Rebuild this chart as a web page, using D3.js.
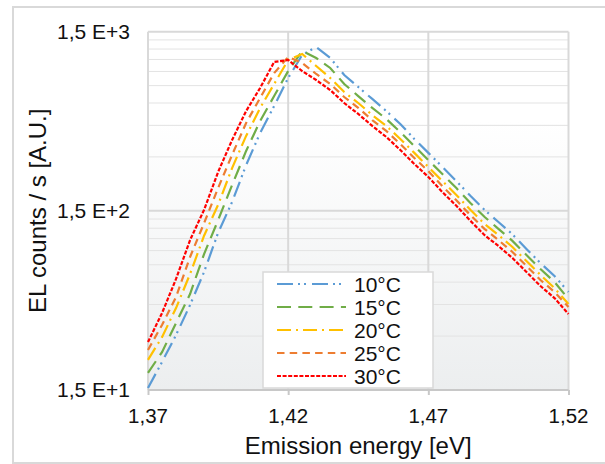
<!DOCTYPE html>
<html>
<head>
<meta charset="utf-8">
<script src="https://cdn.jsdelivr.net/npm/d3@7"></script>
<style>
  body { margin: 0; background: #fff; }
  svg { display: block; font-family: "Liberation Sans", Arial, sans-serif; }
</style>
</head>
<body>
<script>
// emission energy [eV]
const energy = [1.370, 1.375, 1.380, 1.385, 1.390, 1.395, 1.400, 1.405, 1.410, 1.415,
                1.420, 1.425, 1.430, 1.435, 1.440, 1.445, 1.450, 1.455, 1.460, 1.465,
                1.470, 1.475, 1.480, 1.485, 1.490, 1.495, 1.500, 1.505, 1.510, 1.515, 1.520];

// EL counts / s
const counts10 = [15.4, 21.5, 30.4, 44.7, 68.4, 113, 168, 270, 408, 577,
                  827, 1112, 1232, 1070, 860, 737, 632, 541, 458, 378,
                  316, 264, 220, 182, 152, 130, 111, 91.9, 76.7, 64.9, 52.9];
const counts15 = [18.7, 24.4, 35.5, 51.5, 86.1, 133, 209, 324, 476, 656,
                  905, 1170, 1070, 941, 766, 656, 563, 489, 413, 345,
                  288, 241, 201, 166, 139, 119, 102, 85.0, 71.0, 60.1, 48.3];
const counts20 = [22.1, 29.6, 43.0, 66.6, 109, 162, 260, 393, 563, 766,
                  1043, 1126, 965, 827, 691, 600, 514, 447, 378, 316,
                  264, 220, 184, 152, 127, 110, 94.3, 78.7, 65.8, 55.6, 45.3];
const counts25 = [25.1, 34.6, 49.6, 82.9, 128, 201, 308, 464, 640, 882,
                  1084, 1003, 871, 766, 648, 563, 482, 419, 354, 296,
                  250, 206, 172, 142, 119, 103, 88.4, 73.9, 61.7, 52.9, 43.6];
const counts30 = [27.8, 40.3, 62.5, 103, 152, 247, 373, 541, 728, 1016,
                  1043, 905, 806, 709, 600, 521, 447, 388, 328, 274,
                  232, 191, 160, 132, 110, 95.5, 81.8, 68.4, 57.1, 48.9, 39.8];

const seriesNames = ["10°C", "15°C", "20°C", "25°C", "30°C"];

const xTicks = [1.37, 1.42, 1.47, 1.52];
const xTickLabels = ["1,37", "1,42", "1,47", "1,52"];
const yTicks = [15, 150, 1500];
const yTickLabels = ["1,5 E+1", "1,5 E+2", "1,5 E+3"];
const yMinor = [30, 45, 60, 75, 90, 105, 120, 135, 300, 450, 600, 750, 900, 1050, 1200, 1350];

const width = 605, height = 464;
const marginTop = 31.7, marginBottom = 74, marginLeft = 148, marginRight = 36.5;

const colors = ["#5b9bd5", "#70ad47", "#ffc000", "#ed7d31", "#ff0000"];
const dashes = ["16,5,2,4,2,6", "14,7.3", "14,5,2,5", "7.5,5.2", "4,1.6"];

const series = [counts10, counts15, counts20, counts25, counts30].map((vals, i) => ({
  name: seriesNames[i],
  color: colors[i],
  dash: dashes[i],
  values: vals.map((v, j) => ({e: energy[j], v: v}))
}));

const x = d3.scaleLinear()
    .domain([1.37, 1.52])
    .range([marginLeft, width - marginRight]);

const y = d3.scaleLog()
    .domain([15, 1500])
    .range([height - marginBottom, marginTop]);

const svg = d3.create("svg")
    .attr("width", width)
    .attr("height", height);

const grad = svg.append("defs").append("linearGradient")
    .attr("id", "bg")
    .attr("x1", 0).attr("y1", 0).attr("x2", 0).attr("y2", 1);
grad.append("stop").attr("offset", "0%").attr("stop-color", "#ffffff");
grad.append("stop").attr("offset", "25%").attr("stop-color", "#ffffff");
grad.append("stop").attr("offset", "100%").attr("stop-color", "#eceeef");

// outer chart border
svg.append("rect")
    .attr("x", 13).attr("y", 7)
    .attr("width", 610).attr("height", 456)
    .attr("fill", "#fff")
    .attr("stroke", "#d9d9d9")
    .attr("stroke-width", 2);

// plot area background
svg.append("rect")
    .attr("x", x(1.37)).attr("y", y(1500))
    .attr("width", x(1.52) - x(1.37)).attr("height", y(15) - y(1500))
    .attr("fill", "url(#bg)");

// minor gridlines
svg.append("g")
    .attr("stroke", "#e3e3e3")
    .attr("stroke-width", 1)
    .selectAll("line")
    .data(yMinor)
    .join("line")
    .attr("x1", x(1.37)).attr("x2", x(1.52))
    .attr("y1", d => y(d)).attr("y2", d => y(d));

// major gridlines
svg.append("g")
    .attr("stroke", "#d9d9d9")
    .attr("stroke-width", 2)
    .selectAll("line")
    .data(yTicks)
    .join("line")
    .attr("x1", x(1.37)).attr("x2", x(1.52))
    .attr("y1", d => y(d)).attr("y2", d => y(d));

svg.append("g")
    .attr("stroke", "#d9d9d9")
    .attr("stroke-width", 2)
    .selectAll("line")
    .data(xTicks)
    .join("line")
    .attr("x1", d => x(d)).attr("x2", d => x(d))
    .attr("y1", y(1500)).attr("y2", y(15));

// bottom axis line with ticks
svg.append("g")
    .attr("transform", `translate(0,${y(15)})`)
    .call(d3.axisBottom(x).tickValues(xTicks).tickSize(5).tickFormat(""))
    .call(g => g.selectAll("line, path").attr("stroke", "#c8c8c8").attr("stroke-width", 2))
    .call(g => g.select(".domain").attr("d", `M${x(1.37)},0H${x(1.52)}`));

// curves
const line = d3.line()
    .x(d => x(d.e))
    .y(d => y(d.v));

svg.append("g")
    .attr("fill", "none")
    .attr("stroke-width", 2.2)
    .selectAll("path")
    .data(series)
    .join("path")
    .attr("stroke", d => d.color)
    .attr("stroke-dasharray", d => d.dash)
    .attr("d", d => line(d.values));

// tick labels
svg.append("g")
    .attr("font-size", 20.5)
    .attr("fill", "#111")
    .attr("text-anchor", "middle")
    .selectAll("text")
    .data(xTicks)
    .join("text")
    .attr("x", d => x(d))
    .attr("y", 423)
    .text((d, i) => xTickLabels[i]);

svg.append("g")
    .attr("font-size", 21)
    .attr("fill", "#111")
    .attr("text-anchor", "end")
    .selectAll("text")
    .data(yTicks)
    .join("text")
    .attr("x", 130)
    .attr("y", d => y(d) + 7)
    .text((d, i) => yTickLabels[i]);

// axis titles
svg.append("text")
    .attr("x", (x(1.37) + x(1.52)) / 2)
    .attr("y", 454)
    .attr("text-anchor", "middle")
    .attr("font-size", 24)
    .attr("fill", "#111")
    .text("Emission energy [eV]");

svg.append("text")
    .attr("transform", `translate(46,${(y(15) + y(1500)) / 2}) rotate(-90)`)
    .attr("text-anchor", "middle")
    .attr("font-size", 24)
    .attr("fill", "#111")
    .text("EL counts / s [A.U.]");

// legend
const legend = svg.append("g")
    .attr("transform", "translate(263,272)");

legend.append("rect")
    .attr("width", 170).attr("height", 116)
    .attr("fill", "#fff")
    .attr("stroke", "#d9d9d9")
    .attr("stroke-width", 1.5);

const item = legend.selectAll("g")
    .data(series)
    .join("g")
    .attr("transform", (d, i) => `translate(0,${12 + i * 23})`);

item.append("line")
    .attr("x1", 14).attr("x2", 83)
    .attr("stroke", d => d.color)
    .attr("stroke-width", 2.2)
    .attr("stroke-dasharray", d => d.dash);

item.append("text")
    .attr("x", 91)
    .attr("y", 7.5)
    .attr("font-size", 21)
    .attr("fill", "#111")
    .text(d => d.name);

document.body.appendChild(svg.node());
</script>
</body>
</html>
